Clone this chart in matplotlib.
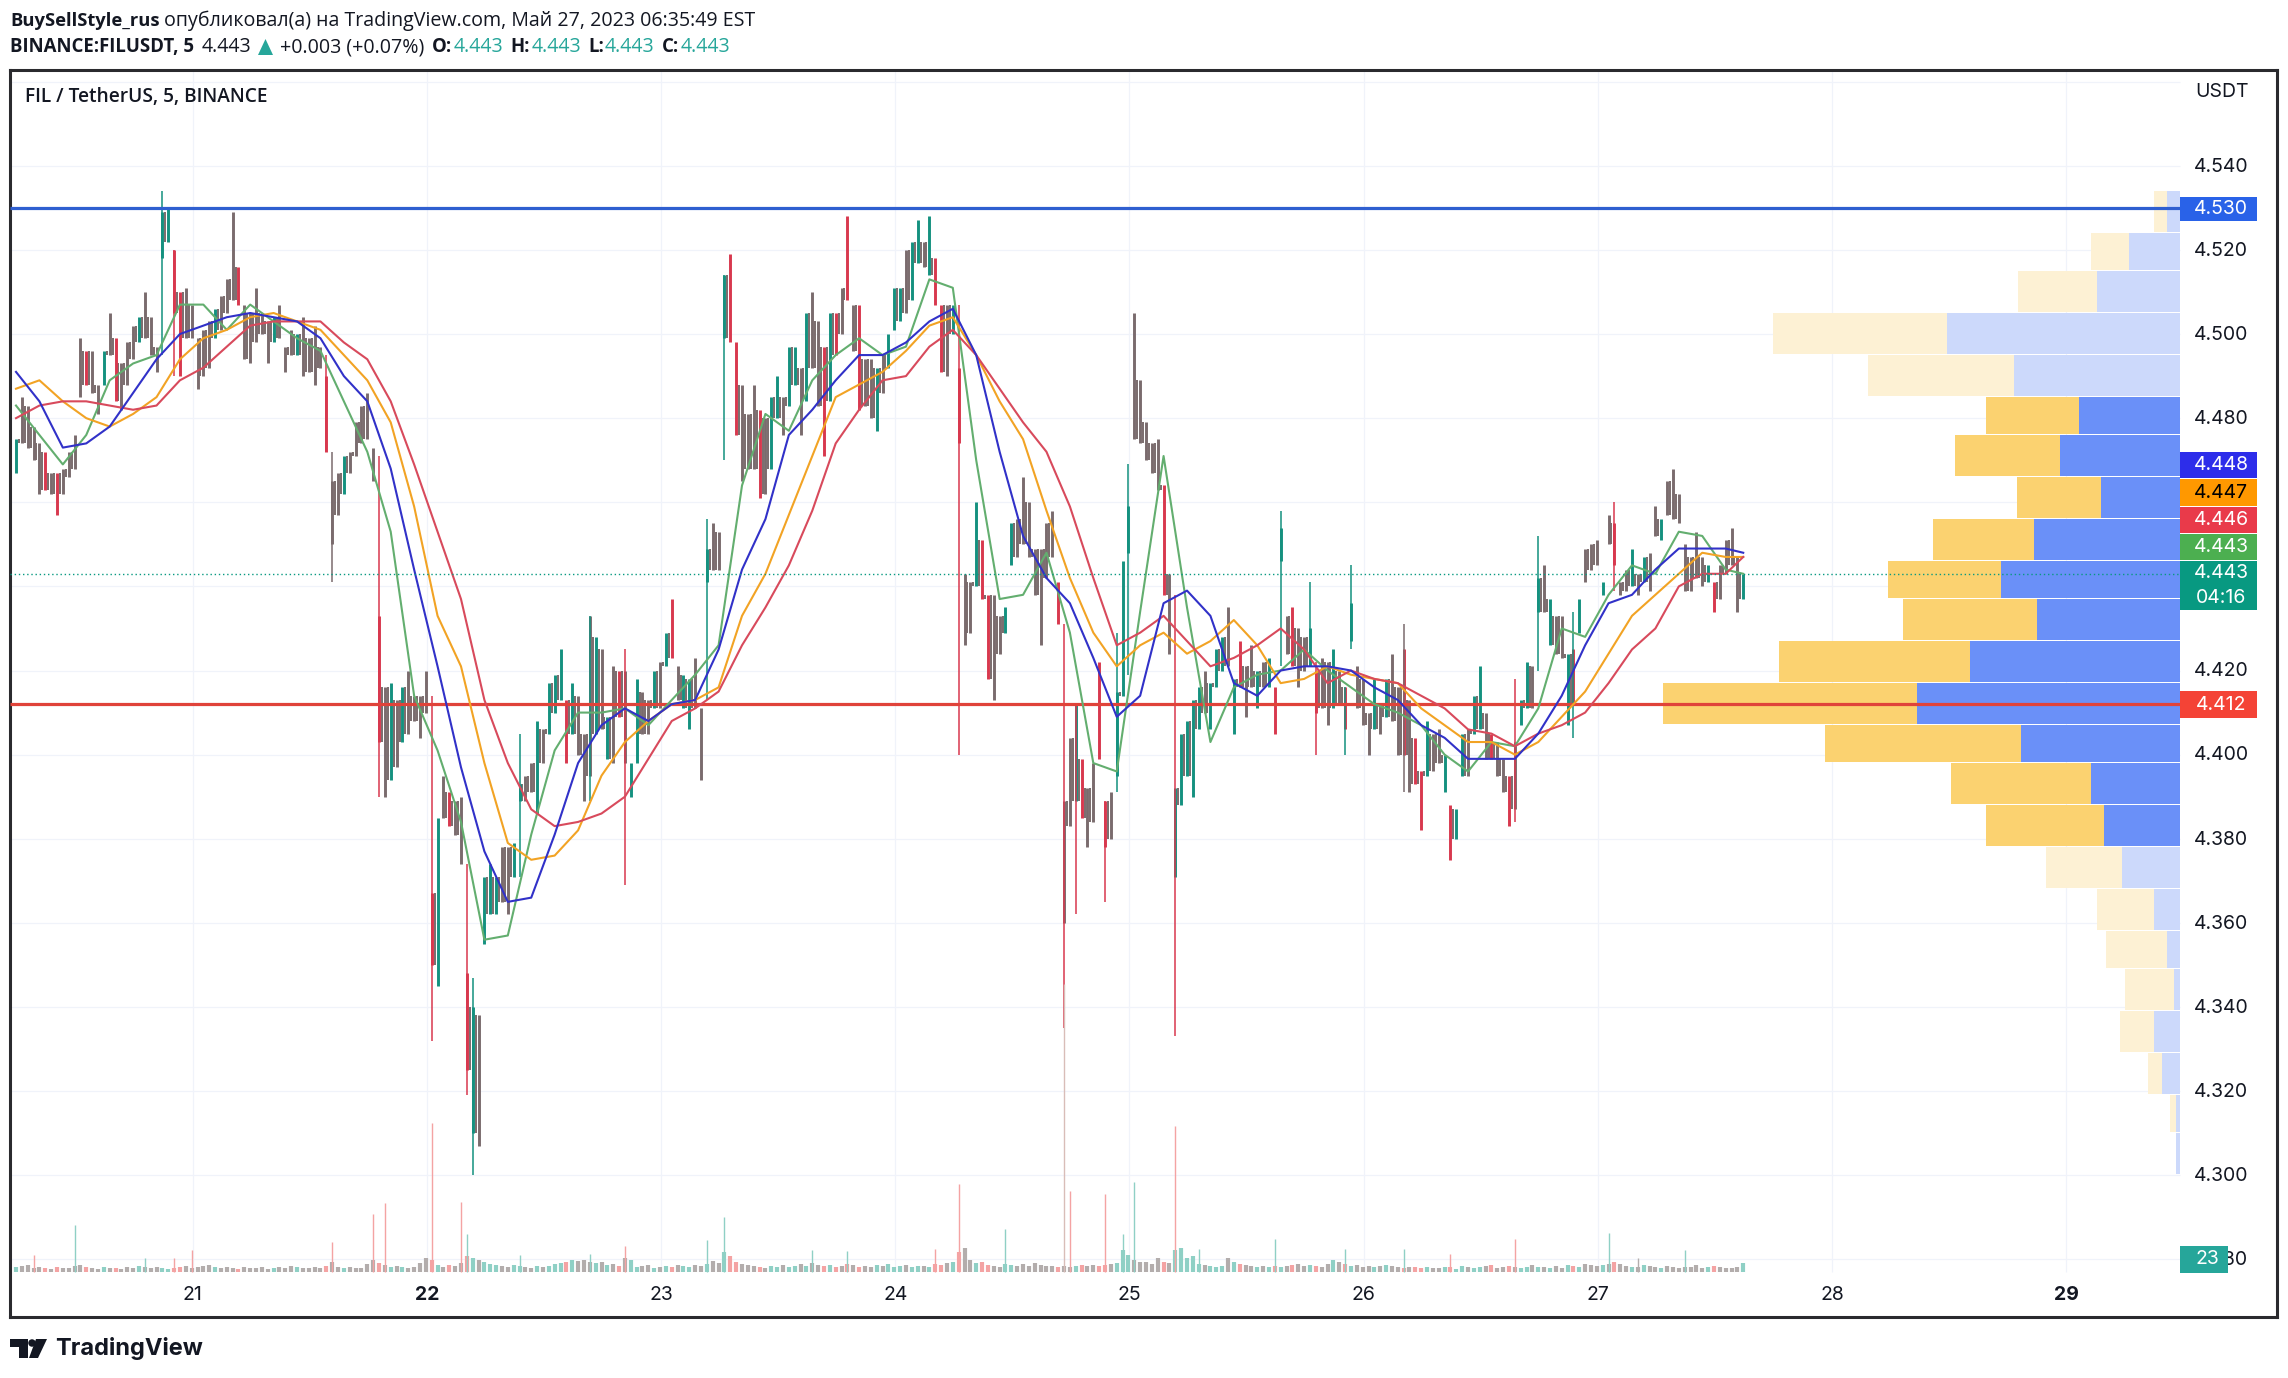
import numpy as np
import matplotlib
matplotlib.use("Agg")
import matplotlib.pyplot as plt
from matplotlib.patches import Rectangle, Polygon, Ellipse

W, H = 2288, 1378
UI_FONT = "Open Sans"
AXIS_FONT = "Inter"

# candle columns, prices in thousandths, one column per 0.025 day
candle_high = [
    4475,4485,4483,4478,4474,4472,4467,4467,4468,4472,
    4476,4499,4496,4496,4488,4496,4505,4499,4493,4498,
    4502,4504,4510,4504,4497,4529,4530,4520,4510,4511,
    4507,4499,4501,4503,4506,4509,4513,4529,4516,4507,
    4505,4511,4505,4503,4504,4507,4497,4501,4500,4504,
    4499,4502,4497,4490,4465,4467,4471,4472,4479,4483,
    4486,4473,4433,4416,4417,4413,4416,4420,4414,4414,
    4420,4367,4385,4395,4391,4389,4390,4348,4340,4338,
    4371,4374,4371,4378,4378,4379,4393,4395,4398,4408,
    4406,4417,4419,4425,4413,4417,4414,4405,4433,4428,
    4425,4409,4421,4420,4420,4398,4418,4415,4413,4420,
    4422,4429,4437,4421,4419,4418,4423,4411,4449,4455,
    4453,4514,4519,4498,4488,4481,4488,4482,4480,4485,
    4490,4485,4497,4497,4492,4505,4510,4503,4497,4505,
    4505,4511,4528,4507,4507,4494,4494,4492,4495,4500,
    4511,4511,4520,4522,4527,4522,4528,4518,4507,4507,
    4507,4492,4443,4441,4460,4451,4438,4438,4433,4435,
    4455,4456,4466,4460,4449,4449,4455,4458,4441,4389,
    4404,4412,4399,4392,4398,4422,4389,4391,4415,4446,
    4459,4505,4489,4479,4474,4475,4464,4443,4392,4405,
    4408,4413,4416,4420,4417,4425,4428,4435,4418,4427,
    4421,4426,4420,4422,4423,4416,4454,4433,4435,4430,
    4428,4430,4420,4423,4422,4425,4420,4416,4436,4421,
    4418,4410,4418,4412,4418,4424,4416,4425,4413,4404,
    4396,4408,4405,4406,4400,4388,4387,4405,4406,4414,
    4421,4410,4405,4403,4399,4395,4403,4413,4422,4421,
    4442,4445,4437,4433,4433,4424,4425,4437,4449,4450,
    4451,4441,4457,4455,4441,4444,4449,4443,4447,4448,
    4459,4456,4465,4468,4462,4450,4447,4453,4447,4445,
    4441,4445,4451,4454,4447,4443,
]
candle_low = [
    4467,4474,4473,4470,4462,4463,4462,4457,4462,4466,
    4468,4485,4488,4486,4481,4488,4495,4484,4482,4488,
    4494,4498,4499,4495,4491,4518,4522,4505,4490,4499,
    4499,4487,4490,4492,4499,4501,4505,4508,4507,4494,
    4493,4498,4500,4493,4498,4499,4491,4495,4495,4490,
    4491,4488,4492,4472,4450,4457,4462,4467,4471,4474,
    4475,4465,4403,4390,4394,4397,4403,4405,4408,4404,
    4410,4350,4345,4385,4383,4381,4374,4325,4310,4307,
    4355,4362,4362,4365,4362,4371,4389,4389,4391,4386,
    4398,4405,4410,4413,4398,4405,4400,4389,4395,4405,
    4406,4399,4398,4409,4398,4390,4398,4405,4405,4411,
    4411,4421,4423,4413,4411,4406,4411,4394,4441,4444,
    4444,4499,4498,4476,4465,4468,4468,4461,4462,4468,
    4480,4476,4483,4488,4476,4484,4492,4483,4471,4484,
    4495,4500,4508,4496,4482,4483,4480,4477,4486,4492,
    4501,4503,4505,4508,4517,4516,4514,4507,4491,4490,
    4500,4474,4426,4429,4440,4437,4418,4413,4424,4429,
    4445,4447,4450,4447,4438,4426,4442,4447,4431,4360,
    4383,4389,4385,4378,4384,4399,4378,4380,4395,4414,
    4448,4475,4474,4470,4467,4463,4438,4424,4371,4388,
    4395,4390,4406,4410,4406,4416,4420,4421,4405,4416,
    4409,4416,4411,4416,4416,4405,4446,4424,4421,4416,
    4420,4421,4410,4411,4407,4411,4412,4406,4427,4411,
    4407,4400,4406,4405,4409,4408,4400,4400,4391,4393,
    4382,4395,4396,4398,4391,4375,4380,4395,4395,4405,
    4406,4399,4399,4395,4391,4383,4387,4407,4411,4411,
    4434,4434,4426,4424,4423,4407,4412,4429,4441,4444,
    4445,4438,4450,4445,4438,4439,4440,4438,4441,4439,
    4452,4451,4457,4456,4455,4439,4439,4442,4440,4441,
    4434,4437,4443,4445,4434,4437,
]
# g up, r down, n mixed (reads grey at this zoom)
candle_tone = (
    "gnnnnrnrnn" "nnrnngnrnn" "ngnnnggrrn" "nnnngnnnrn" "nnnngnnngn"
    "nnnrnngnnn" "nnrngngnnn" "nrgnrnnrgn" "gggnnggnng" "ngggrgnnng"
    "ngnrnggnng" "ngrnggnngn" "ngrrnnnrng" "gnggngnnrg" "rnrnrnngng"
    "ggnggngrrn" "grnngrrnng" "gnnnnnnnrn" "ngrnnrrngg" "gnnnnnrngg"
    "gggngggngr" "nngngrgnrn" "ngrnngnrgn" "nngngnnrnr" "rgnngrggng"
    "gnrnnrnggn" "gngnngrgnn" "ngnrnngngn" "ngnnnnnnng" "rnnnng"
)

# long wicks kept apart from the dense part of the column
wick_index = [25, 27, 53, 54, 62, 71, 77, 78, 86, 98, 104, 118, 121, 161, 179, 181, 186, 188,
              190, 198, 216, 221, 222, 227, 228, 237, 256, 260, 266, 273]
wick_high = [4534, 4520, 4495, 4472, 4471, 4414, 4374, 4347, 4405, 4433, 4425, 4456, 4514, 4507, 4431, 4412, 4389, 4429,
             4469, 4438, 4458, 4441, 4422, 4416, 4445, 4431, 4418, 4452, 4434, 4460]
wick_low = [4495, 4490, 4472, 4441, 4390, 4332, 4319, 4300, 4371, 4389, 4369, 4413, 4470, 4400, 4335, 4362, 4365, 4391,
            4419, 4333, 4421, 4421, 4400, 4400, 4425, 4391, 4384, 4420, 4404, 4439]
wick_tone = "grrnrrrgggrggrrrrggrggrggnrggr"

# moving averages read every 4 columns, last point is the final column
ma_index = list(range(0, 293, 4)) + [295]
ma_green = [4483,4476,4469,4476,4489,4493,4495,4507,4507,4501,4507,4503,4499,4496,4484,
            4472,4453,4414,4401,4384,4356,4357,4381,4401,4410,4410,4411,4407,4413,4419,
            4426,4464,4481,4477,4489,4495,4499,4495,4497,4513,4511,4470,4437,4438,4448,
            4429,4398,4396,4434,4471,4435,4403,4416,4419,4420,4425,4420,4416,4412,4410,
            4407,4400,4396,4403,4402,4411,4430,4428,4438,4445,4443,4453,4452,4444,4443]
ma_blue = [4491,4484,4473,4474,4478,4486,4494,4500,4502,4504,4505,4504,4503,4499,4490,
           4484,4468,4444,4421,4397,4377,4365,4366,4381,4398,4407,4411,4408,4412,4413,
           4425,4444,4456,4476,4482,4489,4495,4495,4498,4503,4506,4495,4472,4452,4442,
           4436,4423,4409,4414,4436,4439,4433,4417,4414,4420,4421,4421,4420,4416,4413,
           4407,4404,4399,4399,4399,4405,4414,4426,4436,4438,4444,4449,4449,4449,4448]
ma_orange = [4487,4489,4484,4480,4478,4481,4485,4494,4499,4501,4504,4505,4503,4501,4495,
             4489,4479,4459,4433,4421,4398,4379,4375,4376,4382,4395,4403,4408,4412,4413,
             4416,4433,4443,4457,4471,4485,4488,4491,4496,4502,4504,4495,4484,4475,4458,
             4442,4429,4421,4426,4429,4424,4427,4432,4426,4417,4418,4421,4419,4418,4417,
             4411,4407,4403,4403,4400,4403,4409,4415,4424,4433,4438,4443,4448,4447,4447]
ma_red = [4480,4483,4484,4484,4483,4482,4483,4489,4492,4497,4502,4503,4503,4503,4498,
          4494,4484,4469,4453,4437,4413,4398,4387,4383,4384,4386,4390,4399,4408,4411,
          4415,4426,4435,4445,4458,4474,4482,4489,4490,4497,4501,4495,4487,4479,4472,
          4459,4442,4426,4429,4433,4427,4421,4423,4426,4430,4425,4417,4420,4418,4417,
          4414,4411,4406,4405,4402,4405,4407,4410,4417,4425,4430,4440,4443,4443,4447]

# volume per column, arbitrary units
volume = [
    5,6,7,4,5,4,3,5,4,4, 6,7,5,4,3,5,4,4,3,5,
    4,6,5,4,5,4,3,4,5,6, 4,5,6,7,5,4,5,4,3,5,
    4,4,5,3,4,5,4,6,5,4, 4,5,4,6,10,5,4,5,4,4,
    8,12,9,7,5,6,5,4,5,9, 14,12,7,5,7,6,9,16,14,12,
    10,8,7,6,5,7,6,5,4,6, 5,6,8,9,10,12,11,12,10,9,
    10,7,8,6,14,12,5,6,7,4, 5,6,5,7,6,5,7,6,8,11,
    9,20,16,10,8,7,6,5,4,6, 5,7,5,6,8,6,9,7,6,7,
    5,6,8,7,5,6,5,7,6,8, 5,6,7,5,6,6,5,8,7,9,
    10,20,24,12,9,10,7,6,5,8, 7,6,8,6,9,7,6,6,5,6,
    5,6,7,6,7,6,7,8,9,22, 17,12,10,10,8,14,10,9,22,24,
    14,16,8,7,6,5,6,14,10,8, 7,6,5,6,5,6,5,6,7,8,
    6,7,6,5,8,12,10,8,6,7, 5,6,5,6,7,6,5,4,5,5,
    4,5,4,4,5,5,3,6,5,4, 5,6,7,4,5,6,5,4,5,7,
    5,5,4,6,4,7,6,5,8,7, 6,7,8,10,8,6,5,5,7,6,
    5,4,6,5,4,5,5,7,4,5, 6,5,4,4,5,9,
]
spike_index = [3, 10, 22, 27, 30, 54, 61, 63, 71, 76, 77, 86, 98, 104, 118, 121, 136, 142, 157, 161, 169,
               180, 186, 189, 191, 198, 202, 215, 227, 237, 245, 256, 272, 277, 285]
spike_height = [17, 47, 14, 14, 22, 30, 58, 69, 149, 70, 38, 17, 18, 26, 32, 55, 22, 21, 23, 88, 43,
                81, 78, 38, 90, 146, 23, 33, 23, 23, 18, 33, 39, 14, 22]
spike_tone = "rggrrrrrrrgggrggggrrgrrggrggggrrgng"
# the tallest print of the 24th, drawn very pale over the price pane
tall_index = 179
tall_height = 288

# volume profile rows from top to bottom
vp_edges = [4.534,4.524,4.515,4.505,4.495,4.485,4.476,4.466,4.456,4.446,4.437,4.427,4.417,
            4.407,4.398,4.388,4.378,4.368,4.358,4.349,4.339,4.329,4.319,4.310,4.300]
vp_up = [9,35,57,160,114,69,82,54,100,123,98,144,180,109,61,52,40,18,9,4,18,12,3,3]
vp_down = [9,26,54,119,100,64,72,58,69,77,92,131,174,134,96,81,52,39,42,34,23,10,4,0]
vp_value_area = [False]*5 + [True]*11 + [False]*8

price_ticks = [4.54,4.52,4.50,4.48,4.46,4.44,4.42,4.40,4.38,4.36,4.34,4.32,4.30,4.28]
covered_ticks = [4.46, 4.44]
day_ticks = [21,22,23,24,25,26,27,28,29]
res_level = 4.530
sup_level = 4.412
last_price = 4.443


def px(x, y):
    return x / W, 1 - y / H


def day_at(x):
    return 21 + (x - 192.6) / 234.2


def price_at(y):
    return 4.54 - (y - 165.8) / 4206


fig = plt.figure(figsize=(W / 100, H / 100), dpi=100, facecolor="white")
ax = fig.add_axes([10 / W, 1 - 1317 / H, 2267 / W, 1247 / H])
ax.set_xlim(day_at(10), day_at(2277))
ax.set_ylim(price_at(1317), price_at(70))
ax.set_xticks([])
ax.set_yticks([])
for s in ax.spines.values():
    s.set_linewidth(2.2)
    s.set_color("#2a2a2e")

plot_right = day_at(2180)
plot_bottom = price_at(1272)

# grid
grid_c = "#f0f3fa"
ax.hlines(price_ticks + [4.56], day_at(10), plot_right, color=grid_c, lw=0.9, zorder=1)
ax.vlines(day_ticks, plot_bottom, price_at(70), color=grid_c, lw=0.9, zorder=1)

# volume profile
scale = 1 / 160.5
for i in range(len(vp_up)):
    top = vp_edges[i]
    bot = vp_edges[i + 1] + 0.00025
    up_w = vp_up[i] * scale
    down_w = vp_down[i] * scale
    c_up = "#6a90f8" if vp_value_area[i] else "#ccd9fb"
    c_down = "#fbd270" if vp_value_area[i] else "#fdf1d4"
    ax.barh(bot, up_w, top - bot, left=plot_right - up_w, align="edge", color=c_up, lw=0, zorder=2)
    ax.barh(bot, down_w, top - bot, left=plot_right - up_w - down_w, align="edge", color=c_down, lw=0, zorder=2)

# candles
x0 = day_at(16)
dx = 0.025
tone_c = {"g": "#14917f", "r": "#d8384e", "n": "#7a6b6d"}
high = np.array(candle_high) / 1000
low = np.array(candle_low) / 1000
candle_x = x0 + dx * np.arange(len(high))
tones = candle_tone.ljust(len(high), "n")

# thin strokes between columns, over the range two neighbours share, so the band reads as dense
shared_top = np.minimum(high[:-1], high[1:])
shared_bot = np.maximum(low[:-1], low[1:])
keep = shared_top > shared_bot
ax.vlines(candle_x[:-1][keep] + dx / 2, shared_bot[keep], shared_top[keep], color="#7a6b6d", lw=1.4, zorder=3)
ax.vlines(candle_x, low, high, color=[tone_c[t] for t in tones], lw=2.1, zorder=3)
wick_x = x0 + dx * np.array(wick_index)
ax.vlines(wick_x, np.array(wick_low) / 1000, np.array(wick_high) / 1000,
          color=[tone_c[t] for t in wick_tone], lw=1.1, zorder=3)

# horizontal levels and last price
ax.hlines(last_price, day_at(10), plot_right, color="#089981", lw=1.0, linestyles=(0, (1, 2)), zorder=6)
ax.hlines(res_level, day_at(10), plot_right, color="#2f5fd0", lw=2.3, zorder=4)
ax.hlines(sup_level, day_at(10), plot_right, color="#e0433a", lw=2.3, zorder=4)

# moving averages
ma_x = x0 + dx * np.array(ma_index)
ax.plot(ma_x, np.array(ma_green) / 1000, color="#63ae6f", lw=1.5, zorder=5)
ax.plot(ma_x, np.array(ma_orange) / 1000, color="#f2a324", lw=1.5, zorder=5)
ax.plot(ma_x, np.array(ma_red) / 1000, color="#d84a5c", lw=1.5, zorder=5)
ax.plot(ma_x, np.array(ma_blue) / 1000, color="#3131c8", lw=1.5, zorder=5)

# volume pane
vax = ax.twinx()
vax.set_ylim(-45, 1202)
vax.set_yticks([])
for s in vax.spines.values():
    s.set_visible(False)
vol_c = {"g": "#8fd0c5", "r": "#f4a3a3", "n": "#b3adac"}
vax.vlines(candle_x, 0, volume, color=[vol_c[t] for t in tones], lw=3.0, zorder=2)
vax.vlines(x0 + dx * np.array(spike_index), 0, spike_height,
           color=[vol_c[t] for t in spike_tone], lw=1.0, zorder=2)
vax.vlines(x0 + dx * tall_index, 0, tall_height, color="#d9bdb8", lw=1.0, zorder=2)

# axis labels
for p in price_ticks:
    if p in covered_ticks:
        continue
    ax.text(day_at(2221), p - 0.0002, f"{p:.3f}", fontsize=14, family=AXIS_FONT, color="#131722",
            ha="center", va="center", zorder=7)
ax.text(day_at(2222), price_at(92), "USDT", fontsize=14, family=AXIS_FONT, color="#131722",
        ha="center", va="center")
for d in day_ticks:
    ax.text(d, price_at(1295), str(d), fontsize=14, family=AXIS_FONT, color="#131722",
            fontweight="bold" if d in (22, 29) else "normal", ha="center", va="center")

# price tags on the right
tags = [
    (197, 221, "#2962e8", ["4.530"], "white"),
    (452, 478, "#2d2dea", ["4.448"], "white"),
    (479, 506, "#ff9800", ["4.447"], "black"),
    (507, 533, "#e93a4a", ["4.446"], "white"),
    (534, 560, "#4caf50", ["4.443"], "white"),
    (561, 610, "#089981", ["4.443", "04:16"], "white"),
    (691, 718, "#f44336", ["4.412"], "white"),
]
for top, bot, col, labels, tc in tags:
    x, y = px(2180, bot)
    fig.add_artist(Rectangle((x, y), 77 / W, (bot - top) / H, transform=fig.transFigure,
                             color=col, lw=0, zorder=8))
    step = (bot - top) / len(labels)
    for j, lab in enumerate(labels):
        tx, ty = px(2221, top + step * (j + 0.5))
        fig.text(tx, ty, lab, fontsize=14, family=AXIS_FONT, color=tc, ha="center", va="center", zorder=9)

x, y = px(2180, 1273)
fig.add_artist(Rectangle((x, y), 48 / W, 27 / H, transform=fig.transFigure, color="#26a69a", lw=0, zorder=8))
tx, ty = px(2207, 1259)
fig.text(tx, ty, "23", fontsize=14, family=AXIS_FONT, color="white", ha="center", va="center", zorder=9)

# header text
dark = "#131722"
teal = "#26a69a"
tx, ty = px(10, 21)
fig.text(tx, ty, "BuySellStyle_rus", fontsize=13.2, family=UI_FONT, fontweight="bold", color=dark, va="center")
tx, ty = px(164, 21)
fig.text(tx, ty, "опубликовал(а) на TradingView.com, Май 27, 2023 06:35:49 EST", fontsize=14.1, family=UI_FONT,
         color=dark, va="center")
header = [
    (10, "BINANCE:FILUSDT, 5", dark, "bold", 13.4),
    (202, "4.443", dark, "normal", 14.1),
    (280, "+0.003 (+0.07%)", dark, "normal", 14.1),
    (432, "O:", dark, "bold", 13.4),
    (454, "4.443", teal, "normal", 14.1),
    (510, "H:", dark, "bold", 13.4),
    (532, "4.443", teal, "normal", 14.1),
    (588, "L:", dark, "bold", 13.4),
    (605, "4.443", teal, "normal", 14.1),
    (662, "C:", dark, "bold", 13.4),
    (681, "4.443", teal, "normal", 14.1),
]
for hx, label, col, weight, size in header:
    tx, ty = px(hx, 47)
    fig.text(tx, ty, label, fontsize=size, family=UI_FONT, color=col, fontweight=weight, va="center")
fig.add_artist(Polygon([px(258, 55), px(273, 55), px(265.5, 39)], transform=fig.transFigure, color=teal, lw=0))

tx, ty = px(25, 97)
fig.text(tx, ty, "FIL / TetherUS, 5, BINANCE", fontsize=13.8, family=UI_FONT, fontweight="semibold", color=dark,
         va="center", zorder=9)

# logo
fig.add_artist(Polygon([px(10, 1339), px(28, 1339), px(28, 1358), px(19, 1358), px(19, 1347), px(10, 1347)],
                       transform=fig.transFigure, color=dark, lw=0))
fig.add_artist(Polygon([px(36, 1339), px(47, 1339), px(38, 1358), px(29, 1358)],
                       transform=fig.transFigure, color=dark, lw=0))
cx, cy = px(32, 1343)
fig.add_artist(Ellipse((cx, cy), 7.5 / W, 7.5 / H, transform=fig.transFigure, color=dark, lw=0))
tx, ty = px(55, 1349)
fig.text(tx, ty, "TradingView", fontsize=17, family=AXIS_FONT, fontweight="bold", color=dark, va="center")

fig.savefig("out.png", dpi=100)
